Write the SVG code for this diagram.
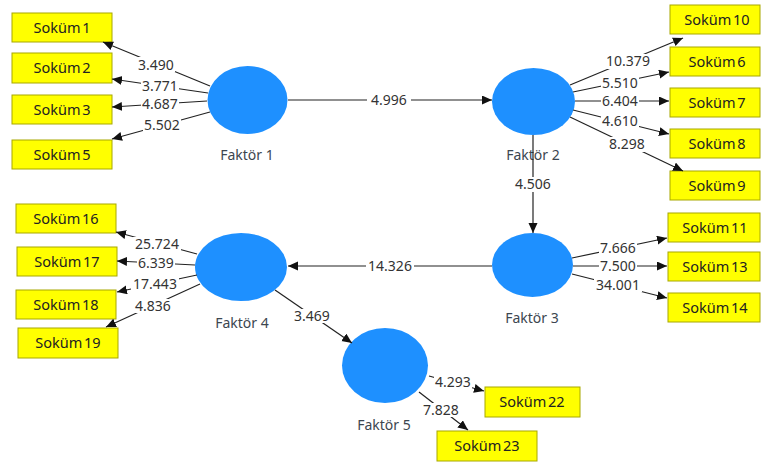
<svg xmlns="http://www.w3.org/2000/svg" width="762" height="462" viewBox="0 0 762 462">
<defs>
<marker id="ah" markerUnits="userSpaceOnUse" markerWidth="11" markerHeight="10" refX="10" refY="4.5" orient="auto">
<path d="M0,0 L10,4.5 L0,9 z" fill="#111"/>
</marker>
<style>
.box{fill:#ffff00;stroke:#a8a800;stroke-width:1}
.bt{font-family:"Noto Sans","Open Sans",sans-serif;font-size:14.5px;word-spacing:-2px;fill:#222;text-anchor:middle}
.lv{fill:#1e90ff}
.lt{font-family:"Noto Sans","Open Sans",sans-serif;font-size:14px;fill:#3c4650;text-anchor:middle}
.ln{stroke:#222;stroke-width:1.2;fill:none;marker-end:url(#ah)}
.nb{fill:#fff}
.nt{font-family:"Noto Sans","Open Sans",sans-serif;font-size:14px;fill:#333;text-anchor:middle}
</style>
</defs>
<rect width="762" height="462" fill="#fff"/>
<g id="nodes">
<g id="f1"><ellipse class="lv" cx="247.5" cy="100" rx="40" ry="34"/><text class="lt" x="247" y="160">Faktör 1</text></g>
<g id="f2"><ellipse class="lv" cx="533.5" cy="101.5" rx="41.5" ry="33.5"/><text class="lt" x="533" y="160">Faktör 2</text></g>
<g id="f3"><ellipse class="lv" cx="532.5" cy="265" rx="40.5" ry="32"/><text class="lt" x="532" y="323">Faktör 3</text></g>
<g id="f4"><ellipse class="lv" cx="241" cy="267" rx="46" ry="34"/><text class="lt" x="242" y="328">Faktör 4</text></g>
<g id="f5"><ellipse class="lv" cx="385" cy="365.5" rx="43" ry="37.5"/><text class="lt" x="384" y="430">Faktör 5</text></g>
<g id="s1"><rect class="box" x="12" y="13" width="100" height="29"/><text class="bt" x="62" y="32.5">Soküm 1</text></g>
<g id="s2"><rect class="box" x="12" y="53" width="100" height="30"/><text class="bt" x="62" y="73">Soküm 2</text></g>
<g id="s3"><rect class="box" x="12" y="95" width="100" height="29"/><text class="bt" x="62" y="114.5">Soküm 3</text></g>
<g id="s5"><rect class="box" x="12" y="140" width="100" height="29"/><text class="bt" x="62" y="159.5">Soküm 5</text></g>
<g id="s10"><rect class="box" x="670" y="5" width="90" height="29"/><text class="bt" x="717" y="24.5">Soküm 10</text></g>
<g id="s6"><rect class="box" x="670" y="47" width="90" height="29"/><text class="bt" x="717" y="66.5">Soküm 6</text></g>
<g id="s7"><rect class="box" x="670" y="88" width="90" height="29"/><text class="bt" x="717" y="107.5">Soküm 7</text></g>
<g id="s8"><rect class="box" x="670" y="129" width="90" height="29"/><text class="bt" x="717" y="148.5">Soküm 8</text></g>
<g id="s9"><rect class="box" x="670" y="171" width="90" height="29"/><text class="bt" x="717" y="190.5">Soküm 9</text></g>
<g id="s11"><rect class="box" x="668" y="213" width="92" height="29"/><text class="bt" x="715" y="232.5">Soküm 11</text></g>
<g id="s13"><rect class="box" x="668" y="252" width="92" height="29"/><text class="bt" x="715" y="271.5">Soküm 13</text></g>
<g id="s14"><rect class="box" x="668" y="293" width="92" height="29"/><text class="bt" x="715" y="312.5">Soküm 14</text></g>
<g id="s16"><rect class="box" x="16" y="204" width="100" height="29"/><text class="bt" x="66" y="223.5">Soküm 16</text></g>
<g id="s17"><rect class="box" x="17" y="247" width="100" height="29"/><text class="bt" x="67" y="266.5">Soküm 17</text></g>
<g id="s18"><rect class="box" x="16" y="290" width="100" height="29"/><text class="bt" x="66" y="309.5">Soküm 18</text></g>
<g id="s19"><rect class="box" x="18" y="328" width="100" height="30"/><text class="bt" x="68" y="348">Soküm 19</text></g>
<g id="s22"><rect class="box" x="485" y="387" width="95" height="30"/><text class="bt" x="532" y="407">Soküm 22</text></g>
<g id="s23"><rect class="box" x="437" y="431" width="100" height="30"/><text class="bt" x="487" y="451">Soküm 23</text></g>
</g>
<g id="connectors">
<line class="ln" x1="210" y1="86" x2="103" y2="42"/>
<line class="ln" x1="208" y1="93" x2="112" y2="79"/>
<line class="ln" x1="207" y1="101" x2="112" y2="107"/>
<line class="ln" x1="210" y1="112" x2="112" y2="139"/>
<line class="ln" x1="288" y1="100" x2="492" y2="100"/>
<line class="ln" x1="570" y1="85" x2="683" y2="38"/>
<line class="ln" x1="573" y1="92" x2="669" y2="72"/>
<line class="ln" x1="575" y1="101" x2="669" y2="101"/>
<line class="ln" x1="573" y1="110" x2="669" y2="134"/>
<line class="ln" x1="570" y1="117" x2="683" y2="171"/>
<line class="ln" x1="533" y1="135" x2="533" y2="233"/>
<line class="ln" x1="572" y1="258" x2="667" y2="238"/>
<line class="ln" x1="573" y1="266" x2="667" y2="266"/>
<line class="ln" x1="572" y1="274" x2="667" y2="298"/>
<line class="ln" x1="492" y1="266" x2="288" y2="266"/>
<line class="ln" x1="197" y1="254" x2="116" y2="232"/>
<line class="ln" x1="195" y1="265" x2="117" y2="261"/>
<line class="ln" x1="197" y1="275" x2="117" y2="292"/>
<line class="ln" x1="200" y1="284" x2="106" y2="327"/>
<line class="ln" x1="275" y1="290" x2="352" y2="343"/>
<line class="ln" x1="429" y1="376" x2="484" y2="391"/>
<line class="ln" x1="419" y1="392" x2="468" y2="430"/>
<g id="labels">
<rect class="nb" x="137" y="57" width="38" height="15"/><text class="nt" x="156" y="70">3.490</text>
<rect class="nb" x="141" y="79" width="38" height="14"/><text class="nt" x="160" y="91">3.771</text>
<rect class="nb" x="141" y="97" width="38" height="14"/><text class="nt" x="160" y="109">4.687</text>
<rect class="nb" x="143" y="118" width="38" height="15"/><text class="nt" x="162" y="130">5.502</text>
<rect class="nb" x="367" y="93" width="44" height="15"/><text class="nt" x="389" y="105">4.996</text>
<rect class="nb" x="604" y="54" width="48" height="15"/><text class="nt" x="628" y="66">10.379</text>
<rect class="nb" x="601" y="76" width="38" height="14"/><text class="nt" x="620" y="88">5.510</text>
<rect class="nb" x="601" y="94" width="38" height="14"/><text class="nt" x="620" y="106">6.404</text>
<rect class="nb" x="601" y="114" width="38" height="14"/><text class="nt" x="620" y="126">4.610</text>
<rect class="nb" x="608" y="137" width="38" height="15"/><text class="nt" x="627" y="149">8.298</text>
<rect class="nb" x="513" y="177" width="40" height="15"/><text class="nt" x="533" y="189">4.506</text>
<rect class="nb" x="599" y="241" width="38" height="14"/><text class="nt" x="618" y="253">7.666</text>
<rect class="nb" x="599" y="259" width="38" height="14"/><text class="nt" x="618" y="271">7.500</text>
<rect class="nb" x="594" y="278" width="48" height="14"/><text class="nt" x="618" y="290">34.001</text>
<rect class="nb" x="366" y="259" width="48" height="15"/><text class="nt" x="390" y="271">14.326</text>
<rect class="nb" x="133" y="237" width="48" height="14"/><text class="nt" x="157" y="249">25.724</text>
<rect class="nb" x="137" y="256" width="38" height="14"/><text class="nt" x="156" y="268">6.339</text>
<rect class="nb" x="131" y="277" width="48" height="14"/><text class="nt" x="155" y="289">17.443</text>
<rect class="nb" x="134" y="299" width="38" height="14"/><text class="nt" x="153" y="311">4.836</text>
<rect class="nb" x="293" y="309" width="38" height="14"/><text class="nt" x="312" y="321">3.469</text>
<rect class="nb" x="434" y="375" width="38" height="14"/><text class="nt" x="453" y="387">4.293</text>
<rect class="nb" x="422" y="403" width="38" height="14"/><text class="nt" x="441" y="415">7.828</text>
</g>
</g>
</svg>
